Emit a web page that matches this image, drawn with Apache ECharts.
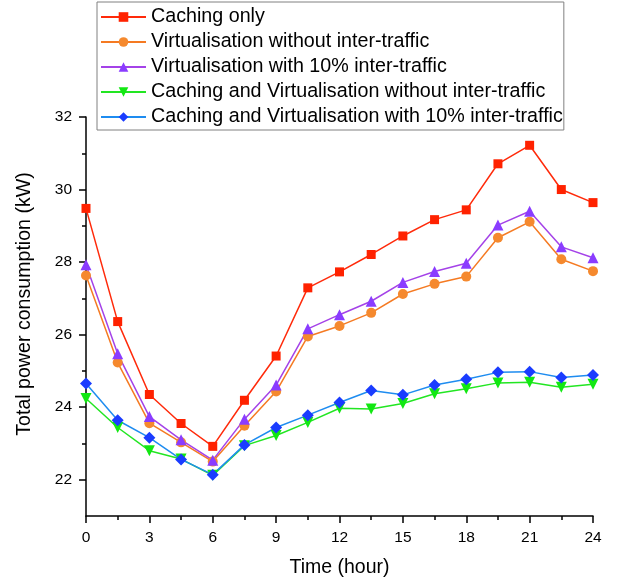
<!DOCTYPE html>
<html>
<head>
<meta charset="utf-8">
<script src="https://cdn.jsdelivr.net/npm/echarts@6/dist/echarts.min.js"></script>
<style>
  html, body { margin: 0; padding: 0; background: #fff; }
  #chart { width: 619px; height: 583px; }
</style>
</head>
<body>
<div id="chart"></div>
<script>
// Hours of the day, sampled every 1.5 h
const hours = [0, 1.5, 3, 4.5, 6, 7.5, 9, 10.5, 12, 13.5, 15, 16.5, 18, 19.5, 21, 22.5, 24];

// Total power consumption (kW) per scheme
const cachingOnly = [29.48, 26.36, 24.35, 23.55, 22.92, 24.19, 25.41, 27.29, 27.73, 28.21, 28.72, 29.17, 29.44, 30.71, 31.22, 30.00, 29.64];
const virtNoInter = [27.63, 25.23, 23.56, 23.03, 22.50, 23.49, 24.43, 25.95, 26.24, 26.60, 27.12, 27.40, 27.60, 28.67, 29.11, 28.08, 27.75];
const virtInter10 = [27.93, 25.47, 23.74, 23.10, 22.54, 23.67, 24.61, 26.16, 26.55, 26.92, 27.44, 27.74, 27.97, 29.02, 29.40, 28.42, 28.12];
const cacheVirtNoInter = [24.24, 23.44, 22.80, 22.57, 22.12, 22.94, 23.22, 23.58, 23.97, 23.95, 24.10, 24.37, 24.51, 24.67, 24.69, 24.55, 24.63];
const cacheVirtInter10 = [24.65, 23.64, 23.16, 22.56, 22.14, 22.96, 23.44, 23.78, 24.13, 24.46, 24.34, 24.61, 24.77, 24.96, 24.98, 24.82, 24.89];

const seriesNames = [
  'Caching only',
  'Virtualisation without inter-traffic',
  'Virtualisation with 10% inter-traffic',
  'Caching and Virtualisation without inter-traffic',
  'Caching and Virtualisation with 10% inter-traffic'
];

// Axis tick values
const yMajorTicks = [22, 24, 26, 28, 30, 32];
const yMinorTicks = [23, 25, 27, 29, 31];

const FONT = '"Liberation Sans", Arial, sans-serif';

function pairs(values) {
  return hours.map((h, i) => [h, values[i]]);
}

function lineSeries(name, values, lineColor, markColor, symbol, size, rotate) {
  return {
    name: name,
    type: 'line',
    data: pairs(values),
    symbol: symbol,
    symbolSize: size,
    symbolRotate: rotate || 0,
    showAllSymbol: true,
    clip: false,
    lineStyle: { color: lineColor, width: 1.5 },
    itemStyle: { color: markColor, borderWidth: 0 },
    emphasis: { disabled: true },
    animation: false
  };
}

const chart = echarts.init(document.getElementById('chart'), null, { renderer: 'canvas' });

chart.setOption({
  backgroundColor: '#ffffff',
  animation: false,
  grid: { left: 86, right: 26, top: 117, bottom: 65, containLabel: false },
  legend: {
    orient: 'vertical',
    left: 97,
    top: 2,
    padding: [5, 1, 3, 3],
    itemGap: 5,
    itemWidth: 45,
    itemHeight: 12,
    borderColor: '#808080',
    borderWidth: 1,
    backgroundColor: '#ffffff',
    textStyle: { fontFamily: FONT, fontSize: 19.7, color: '#000', lineHeight: 19.5 },
    data: seriesNames
  },
  xAxis: {
    type: 'value',
    min: 0,
    max: 24,
    interval: 3,
    name: 'Time (hour)',
    nameLocation: 'middle',
    nameGap: 42,
    nameTextStyle: { fontFamily: FONT, fontSize: 19.5, color: '#000' },
    axisLine: { show: true, onZero: false, lineStyle: { color: '#000', width: 1.5 } },
    axisTick: { show: true, inside: false, length: 7, lineStyle: { color: '#000', width: 1.5 } },
    minorTick: { show: true, splitNumber: 2, length: 4, lineStyle: { color: '#000', width: 1.5 } },
    axisLabel: { fontFamily: FONT, fontSize: 15.5, color: '#000', margin: 14 },
    splitLine: { show: false },
    minorSplitLine: { show: false }
  },
  yAxis: [
    {
      type: 'value',
      min: 21,
      max: 32,
      interval: 1,
      name: 'Total power consumption (kW)',
      nameLocation: 'middle',
      nameGap: 51,
      nameTextStyle: { fontFamily: FONT, fontSize: 19.6, color: '#000', padding: [0, 0, 0, 25] },
      axisLine: { show: true, onZero: false, lineStyle: { color: '#000', width: 1.5 } },
      axisTick: { show: true, inside: false, length: 7, customValues: yMajorTicks, lineStyle: { color: '#000', width: 1.5 } },
      axisLabel: { fontFamily: FONT, fontSize: 15.5, color: '#000', margin: 14, customValues: yMajorTicks },
      splitLine: { show: false }
    },
    {
      type: 'value',
      min: 21,
      max: 32,
      interval: 1,
      position: 'left',
      axisLine: { show: false },
      axisTick: { show: true, inside: false, length: 4, customValues: yMinorTicks, lineStyle: { color: '#000', width: 1.5 } },
      axisLabel: { show: false },
      splitLine: { show: false }
    }
  ],
  series: [
    lineSeries(seriesNames[0], cachingOnly, '#FF2A0A', '#FF2200', 'rect', 9),
    lineSeries(seriesNames[1], virtNoInter, '#F57A22', '#F5892E', 'circle', 10),
    lineSeries(seriesNames[2], virtInter10, '#A442E8', '#8A3CFF', 'triangle', 11),
    lineSeries(seriesNames[3], cacheVirtNoInter, '#22E622', '#12E812', 'triangle', 11, 180),
    lineSeries(seriesNames[4], cacheVirtInter10, '#1E8CF0', '#1A3CFF', 'diamond', 12)
  ]
});
</script>
</body>
</html>
